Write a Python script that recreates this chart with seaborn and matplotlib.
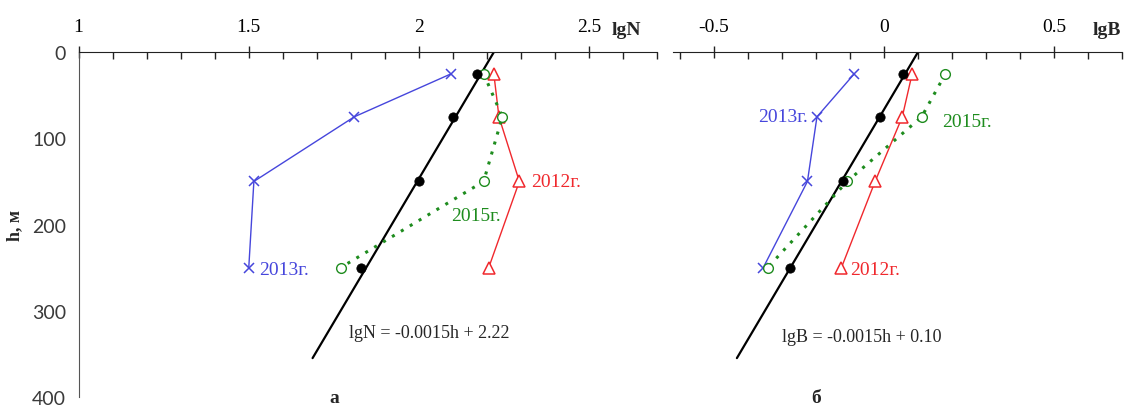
import numpy as np
import pandas as pd
import matplotlib
matplotlib.use("Agg")
import matplotlib.pyplot as plt
import seaborn as sns
from matplotlib.ticker import MultipleLocator, FuncFormatter

# ---- data ----
depth = [25, 75, 150, 250]
lgN_mean = [2.17, 2.10, 2.00, 1.83]
lgN_2012 = [2.22, 2.235, 2.295, 2.205]
lgN_2013 = [2.095, 1.81, 1.515, 1.50]
lgN_2015 = [2.19, 2.245, 2.19, 1.77]
lgB_mean = [0.056, -0.012, -0.12, -0.275]
lgB_2012 = [0.083, 0.054, -0.026, -0.125]
lgB_2013 = [-0.087, -0.197, -0.225, -0.355]
lgB_2015 = [0.181, 0.111, -0.108, -0.342]
fit_slope = -0.0015
fitN_intercept = 2.22
fitB_intercept = 0.10
fit_depth = [0, 355]
lgN_ticks = [1, 1.5, 2, 2.5]
lgB_ticks = [-0.5, 0, 0.5]
h_ticks = [0, 100, 200, 300, 400]

sns.set_style("white")
plt.rcParams['font.family'] = ['Liberation Serif', 'DejaVu Serif']

C_BLUE = '#4646dc'
C_RED = '#f0282d'
C_GREEN = '#1e8c1e'

fig = plt.figure(figsize=(11.39, 4.06), dpi=100)
axL = fig.add_axes([0.069, 0.02, 0.508, 0.849])
axR = fig.add_axes([0.591, 0.02, 0.394, 0.849])

FS = 13
FSL = 14


def draw(ax, mean, s12, s13, s15, intercept):
    df = pd.DataFrame({'h': depth, 'mean': mean, 's12': s12, 's13': s13, 's15': s15})
    fd = pd.DataFrame({'h': fit_depth})
    fd['v'] = intercept + fit_slope * fd['h']
    sns.lineplot(data=fd, x='v', y='h', sort=False, estimator=None, orient='y',
                 color='black', lw=1.6, ax=ax)
    sns.lineplot(data=df, x='s13', y='h', sort=False, estimator=None, orient='y',
                 color=C_BLUE, lw=1.0, marker='x', markersize=7, mew=1.1,
                 markeredgecolor=C_BLUE, markerfacecolor=C_BLUE, ax=ax)
    sns.lineplot(data=df, x='s12', y='h', sort=False, estimator=None, orient='y',
                 color=C_RED, lw=1.0, marker='^', markersize=9, mew=1.1,
                 markerfacecolor='white', markeredgecolor=C_RED, ax=ax)
    sns.lineplot(data=df, x='s15', y='h', sort=False, estimator=None, orient='y',
                 color=C_GREEN, lw=2.2, ls=(0, (1, 2.4)), marker='o', markersize=7, mew=1.0,
                 markerfacecolor='white', markeredgecolor=C_GREEN, ax=ax)
    sns.scatterplot(data=df, x='mean', y='h', color='black', s=45, edgecolor='black',
                    zorder=5, ax=ax)
    ax.set_ylim(400, 0)
    ax.set_xlabel('')
    ax.set_ylabel('')
    ax.xaxis.tick_top()
    ax.xaxis.set_label_position('top')
    for sp in ['right', 'bottom']:
        ax.spines[sp].set_visible(False)
    ax.spines['top'].set_color('#222222')
    ax.spines['left'].set_color('#555555')
    ax.xaxis.set_minor_locator(MultipleLocator(0.1))
    ax.tick_params(axis='x', which='major', direction='inout', length=9, width=1.0,
                   labelsize=FSL, pad=8, colors='#222222', labelcolor='black')
    ax.tick_params(axis='x', which='minor', direction='in', length=5, width=1.0,
                   colors='#222222', top=True)


# ---- left panel ----
draw(axL, lgN_mean, lgN_2012, lgN_2013, lgN_2015, fitN_intercept)
axL.set_xlim(1, 2.7)
axL.set_xticks(lgN_ticks)
axL.xaxis.set_major_formatter(FuncFormatter(lambda v, p: f'{v:g}'))
axL.set_yticks(h_ticks)
axL.tick_params(axis='y', direction='out', length=5, width=1.0, colors='#555555',
                labelsize=FSL, labelcolor='#3a3a3a', pad=4)
for lab in axL.get_yticklabels():
    lab.set_family(['Lato', 'DejaVu Sans'])
axL.set_ylabel('h, м', fontsize=FS, fontweight='bold', labelpad=6)
axL.text(2.565, -26, 'lgN', fontsize=FSL, fontweight='bold', ha='left', va='center')
axL.text(2.33, 150, '2012г.', color=C_RED, fontsize=FSL, va='center')
axL.text(2.095, 190, '2015г.', color=C_GREEN, fontsize=FSL, va='center')
axL.text(1.53, 252, '2013г.', color=C_BLUE, fontsize=FSL, va='center')
axL.text(1.795, 325, 'lgN = -0.0015h + 2.22', fontsize=FS, va='center')
axL.text(1.75, 406, 'а', fontsize=FSL, fontweight='bold', ha='center', va='baseline')

# ---- right panel ----
draw(axR, lgB_mean, lgB_2012, lgB_2013, lgB_2015, fitB_intercept)
axR.set_xlim(-0.62, 0.7)
axR.set_xticks(lgB_ticks)
axR.xaxis.set_major_formatter(FuncFormatter(lambda v, p: f'{v:g}'))
axR.spines['left'].set_visible(False)
axR.set_yticks([])
axR.text(0.615, -26, 'lgB', fontsize=FSL, fontweight='bold', ha='left', va='center')
axR.text(-0.225, 75, '2013г.', color=C_BLUE, fontsize=FSL, va='center', ha='right')
axR.text(0.17, 80, '2015г.', color=C_GREEN, fontsize=FSL, va='center')
axR.text(-0.1, 252, '2012г.', color=C_RED, fontsize=FSL, va='center')
axR.text(-0.30, 330, 'lgB = -0.0015h + 0.10', fontsize=FS, va='center')
axR.text(-0.20, 406, 'б', fontsize=FSL, fontweight='bold', ha='center', va='baseline')

fig.savefig('out.png', dpi=100)
